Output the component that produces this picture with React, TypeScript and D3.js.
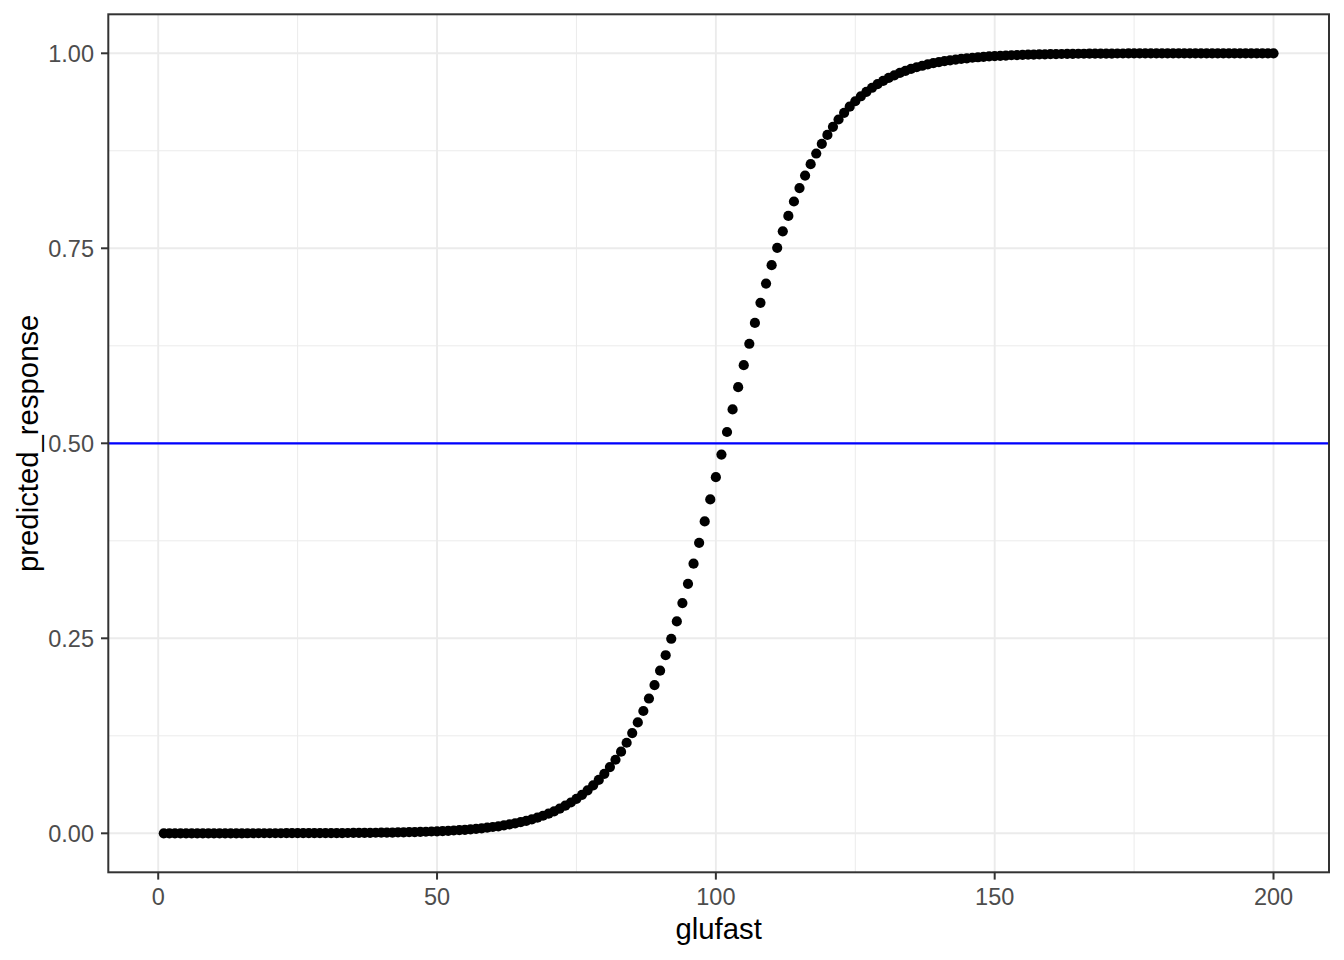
import React from "react";
import * as d3 from "d3";

// glufast values 1..200
const glufast: number[] = d3.range(1, 201);

// predicted_response (one per glufast value)
const predictedLow: number[] = [
  0.00001, 0.00001, 0.00001, 0.00001, 0.00001, 0.00001, 0.00002, 0.00002, 0.00002, 0.00002,
  0.00003, 0.00003, 0.00003, 0.00004, 0.00004, 0.00005, 0.00006, 0.00006, 0.00007, 0.00008,
  0.00009,
  0.0001, 0.00011, 0.00012, 0.00014, 0.00016, 0.00018, 0.0002, 0.00022, 0.00025, 0.00028,
  0.00032, 0.00035, 0.0004, 0.00045, 0.0005, 0.00056, 0.0006, 0.0007, 0.0008, 0.0009,
  0.001, 0.0011, 0.0013, 0.0014, 0.0016, 0.0018, 0.002, 0.0023, 0.0025, 0.0029,
  0.0032, 0.0036, 0.004, 0.0045, 0.0051, 0.0057, 0.0064, 0.0072, 0.0081, 0.009,
  0.0101, 0.0114, 0.0127, 0.0143, 0.016, 0.0179, 0.0201, 0.0225, 0.0252, 0.0282,
  0.0316, 0.0354, 0.0395, 0.0442, 0.0494, 0.0551, 0.0615, 0.0685, 0.0763, 0.0849,
  0.0943, 0.1047, 0.1161, 0.1285, 0.1421, 0.1568, 0.1728, 0.19, 0.2085, 0.2283,
  0.2494, 0.2717, 0.2952, 0.3199, 0.3457, 0.3724, 0.3999, 0.428, 0.4566, 0.4855,
];
const predictedHigh: number[] = [
  0.5145, 0.5434, 0.572, 0.6001, 0.6276, 0.6543, 0.6801, 0.7048, 0.7283, 0.7506,
  0.7717, 0.7915, 0.81, 0.8272, 0.8432, 0.8579, 0.8715, 0.8839, 0.8953, 0.9057,
  0.9151, 0.9237, 0.9315, 0.9385, 0.9449, 0.9506, 0.9558, 0.9605, 0.9646, 0.9684,
  0.9718, 0.9748, 0.9775, 0.9799, 0.9821, 0.984, 0.9857, 0.9873, 0.9886, 0.9899,
  0.991, 0.9919, 0.9928, 0.9936, 0.9943, 0.9949, 0.9955, 0.996, 0.9964, 0.9968,
  0.9971, 0.9975, 0.9977, 0.998, 0.9982, 0.9984, 0.9986, 0.9987, 0.9989, 0.999,
  0.9991, 0.9992, 0.9993, 0.9994, 0.99944, 0.9995, 0.99955, 0.9996, 0.99965, 0.99968,
  0.99972, 0.99975, 0.99978, 0.9998, 0.99982, 0.99984, 0.99986, 0.99988, 0.99989, 0.9999,
  0.99991, 0.99992, 0.99993, 0.99994, 0.99994, 0.99995, 0.99996, 0.99996, 0.99997, 0.99997,
  0.99997, 0.99998, 0.99998, 0.99998, 0.99998, 0.99999, 0.99999, 0.99999, 0.99999,
];
const predicted: number[] = [...predictedLow, ...predictedHigh];

const xTicks: number[] = [0, 50, 100, 150, 200];
const xMinor: number[] = [25, 75, 125, 175];
const yTicks: number[] = [0, 0.25, 0.5, 0.75, 1];
const yTickLabels: string[] = ["0.00", "0.25", "0.50", "0.75", "1.00"];
const yMinor: number[] = [0.125, 0.375, 0.625, 0.875];
const hlineValue = 0.5;

const W = 1344;
const H = 960;
const panel = { left: 108.3, right: 1329, top: 14.3, bottom: 872.3 };
const FONT = "'Liberation Sans', Arial, sans-serif";

export default function App() {
  const xmin = d3.min(glufast)!;
  const xmax = d3.max(glufast)!;
  const xpad = (xmax - xmin) * 0.05;
  const ymin = d3.min(predicted)!;
  const ymax = d3.max(predicted)!;
  const ypad = (ymax - ymin) * 0.05;

  const x = d3.scaleLinear().domain([xmin - xpad, xmax + xpad]).range([panel.left, panel.right]);
  const y = d3.scaleLinear().domain([ymin - ypad, ymax + ypad]).range([panel.bottom, panel.top]);

  const pts = glufast.map((g, i) => ({ g, p: predicted[i] }));

  return (
    <svg
      width={W}
      height={H}
      style={{ position: "absolute", left: 0, top: 0, background: "#fff" }}
      fontFamily={FONT}
    >
      <rect x={0} y={0} width={W} height={H} fill="#fff" />
      <rect
        x={panel.left}
        y={panel.top}
        width={panel.right - panel.left}
        height={panel.bottom - panel.top}
        fill="#fff"
      />
      {/* minor grid */}
      {xMinor.map((v) => (
        <line key={"xm" + v} x1={x(v)} x2={x(v)} y1={panel.top} y2={panel.bottom} stroke="#EBEBEB" strokeWidth={1} />
      ))}
      {yMinor.map((v) => (
        <line key={"ym" + v} x1={panel.left} x2={panel.right} y1={y(v)} y2={y(v)} stroke="#EBEBEB" strokeWidth={1} />
      ))}
      {/* major grid */}
      {xTicks.map((v) => (
        <line key={"xg" + v} x1={x(v)} x2={x(v)} y1={panel.top} y2={panel.bottom} stroke="#EBEBEB" strokeWidth={1.9} />
      ))}
      {yTicks.map((v) => (
        <line key={"yg" + v} x1={panel.left} x2={panel.right} y1={y(v)} y2={y(v)} stroke="#EBEBEB" strokeWidth={1.9} />
      ))}
      {/* points */}
      {pts.map((d) => (
        <circle key={d.g} cx={x(d.g)} cy={y(d.p)} r={5.1} fill="#000" />
      ))}
      {/* hline */}
      <line
        x1={panel.left}
        x2={panel.right}
        y1={y(hlineValue)}
        y2={y(hlineValue)}
        stroke="#0000FF"
        strokeWidth={2.2}
      />
      {/* border */}
      <rect
        x={panel.left}
        y={panel.top}
        width={panel.right - panel.left}
        height={panel.bottom - panel.top}
        fill="none"
        stroke="#333333"
        strokeWidth={2}
      />
      {/* x axis ticks */}
      {xTicks.map((v) => (
        <g key={"xt" + v}>
          <line x1={x(v)} x2={x(v)} y1={panel.bottom} y2={panel.bottom + 7.3} stroke="#333333" strokeWidth={2} />
          <text x={x(v)} y={905} textAnchor="middle" fontSize={23.5} fill="#4D4D4D">
            {String(v)}
          </text>
        </g>
      ))}
      {/* y axis ticks */}
      {yTicks.map((v, i) => (
        <g key={"yt" + v}>
          <line x1={panel.left - 7.3} x2={panel.left} y1={y(v)} y2={y(v)} stroke="#333333" strokeWidth={2} />
          <text x={94} y={y(v) + 8.4} textAnchor="end" fontSize={23.5} fill="#4D4D4D">
            {yTickLabels[i]}
          </text>
        </g>
      ))}
      {/* axis titles */}
      <text x={(panel.left + panel.right) / 2} y={938.5} textAnchor="middle" fontSize={29.3} fill="#000">
        glufast
      </text>
      <text
        transform={`translate(38,${(panel.top + panel.bottom) / 2}) rotate(-90)`}
        textAnchor="middle"
        fontSize={29.3}
        fill="#000"
      >
        predicted_response
      </text>
    </svg>
  );
}
